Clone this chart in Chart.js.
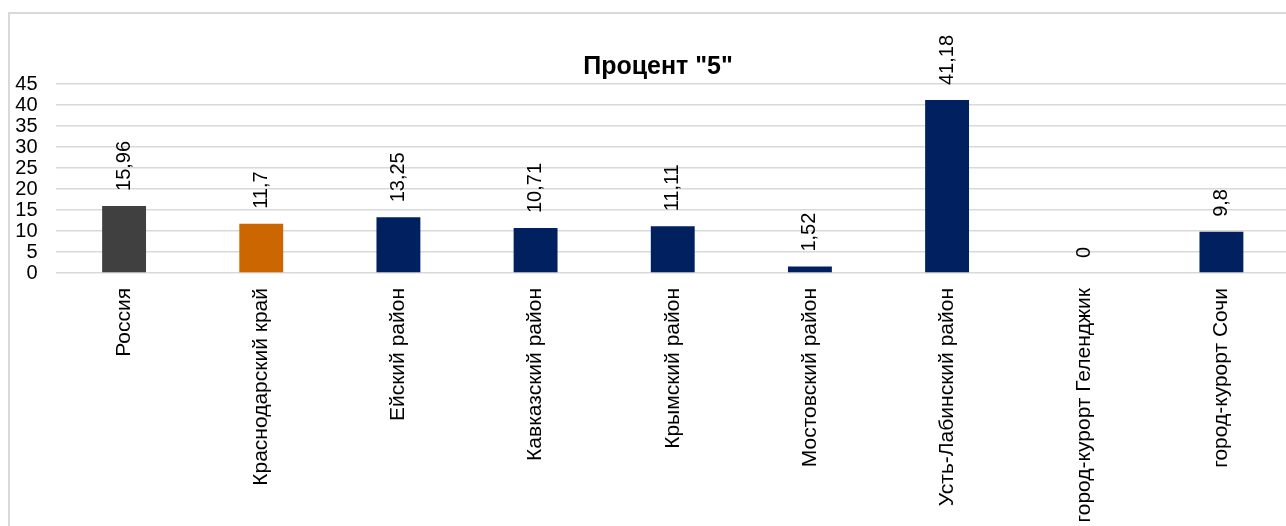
<!DOCTYPE html>
<html>
<head>
<meta charset="utf-8">
<script src="https://cdn.jsdelivr.net/npm/chart.js@4.4.1/dist/chart.umd.min.js"></script>
<style>
  html, body { margin: 0; padding: 0; background: #fff; overflow: hidden; width: 1286px; height: 526px; }
  #frame { position: absolute; left: 8px; top: 12px; width: 1400px; height: 600px;
           border-left: 2px solid #d9d9d9; border-top: 2px solid #d9d9d9; }
  #chart13 { position: absolute; left: 0; top: 0; }
</style>
</head>
<body>
<div id="frame"></div>
<canvas id="chart13" width="1290" height="560"></canvas>
<script>
// data
var regions = ["Россия", "Краснодарский край", "Ейский район", "Кавказский район", "Крымский район",
               "Мостовский район", "Усть-Лабинский район", "город-курорт Геленджик", "город-курорт Сочи"];
var percent5 = [15.96, 11.7, 13.25, 10.71, 11.11, 1.52, 41.18, 0, 9.8];
var barColors = ["#404040", "#cc6600", "#002060", "#002060", "#002060", "#002060", "#002060", "#002060", "#002060"];
var yTicks = [0, 5, 10, 15, 20, 25, 30, 35, 40, 45];
var chartTitle = 'Процент "5"';

var FONT = "'Liberation Sans', Arial, sans-serif";
var CANVAS_H = 560;
var AXIS_Y = 273;   // where 0 sits in the picture
var PLOT_TOP = 84;  // where 45 sits
var TITLE_X = 658;  // title is centred on the whole chart frame, not the canvas
var TITLE_Y = 67;

// values above bars, rotated, with a comma as decimal sign; plus the title
var valueLabels = {
  id: 'valueLabels',
  afterDatasetsDraw: function(chart) {
    var ctx = chart.ctx;
    var meta = chart.getDatasetMeta(0);
    ctx.save();
    ctx.font = "20px " + FONT;
    ctx.fillStyle = "#000";
    ctx.textAlign = "left";
    ctx.textBaseline = "middle";
    meta.data.forEach(function(bar, i) {
      ctx.save();
      ctx.translate(bar.x, bar.y - 15);
      ctx.rotate(-Math.PI / 2);
      ctx.fillText(String(percent5[i]).replace('.', ','), 0, 0);
      ctx.restore();
    });
    ctx.font = "bold 25px " + FONT;
    ctx.textAlign = "center";
    ctx.fillText(chartTitle, TITLE_X, TITLE_Y);
    ctx.restore();
  }
};

var ctx = document.getElementById("chart13").getContext('2d');
var chart = new Chart(ctx, {
  type: 'bar',
  data: {
    labels: regions,
    datasets: [{
      data: percent5,
      backgroundColor: barColors,
      barPercentage: 0.32,
      categoryPercentage: 1
    }]
  },
  options: {
    responsive: false,
    animation: false,
    layout: { padding: { left: 0, right: 0, top: PLOT_TOP, bottom: 0 } },
    plugins: {
      legend: { display: false },
      tooltip: { enabled: false },
      title: { display: false }
    },
    scales: {
      x: {
        grid: { display: false },
        border: { display: false },
        ticks: {
          minRotation: 90, maxRotation: 90, autoSkip: false, padding: 7,
          color: '#000', font: { family: FONT, size: 21 }
        },
        afterFit: function(scale) { scale.height = CANVAS_H - AXIS_Y; }
      },
      y: {
        min: 0, max: 45,
        afterBuildTicks: function(scale) { scale.ticks = yTicks.map(function(v) { return { value: v }; }); },
        grid: { color: '#d9d9d9', lineWidth: 1.5, drawTicks: false },
        border: { display: false },
        ticks: { autoSkip: false, padding: 18, color: '#000', font: { family: FONT, size: 20 } },
        afterFit: function(scale) { scale.width = 55.5; }
      }
    }
  },
  plugins: [valueLabels]
});
</script>
</body>
</html>
